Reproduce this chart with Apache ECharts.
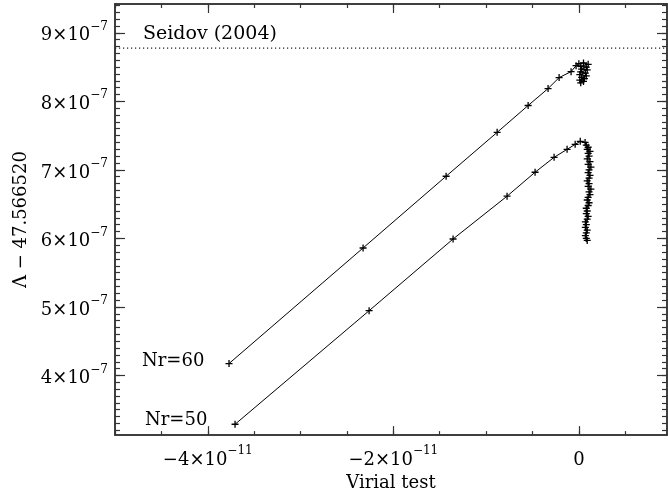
<!DOCTYPE html>
<html>
<head>
<meta charset="utf-8">
<script src="https://cdn.jsdelivr.net/npm/echarts@6/dist/echarts.min.js"></script>
<style>html,body{margin:0;padding:0;background:#fff}#c{width:668px;height:497px}</style>
</head>
<body>
<div id="c"></div>
<script>
// ---- data ----
const nr60X = [-3.771e-11, -2.326e-11, -1.431e-11, -0.881e-11, -0.547e-11, -0.332e-11, -0.213e-11, -0.084e-11, -0.030e-11,
  0.000e-11, 0.050e-11, 0.100e-11, 0.020e-11, 0.080e-11, 0.030e-11, 0.090e-11, 0.020e-11, 0.070e-11, 0.010e-11,
  0.080e-11, 0.030e-11, 0.060e-11, 0.010e-11, 0.050e-11, 0.020e-11];
const nr60Y = [4.174e-7, 5.860e-7, 6.907e-7, 7.547e-7, 7.939e-7, 8.186e-7, 8.346e-7, 8.433e-7, 8.520e-7,
  8.550e-7, 8.560e-7, 8.540e-7, 8.510e-7, 8.500e-7, 8.470e-7, 8.460e-7, 8.430e-7, 8.410e-7, 8.390e-7,
  8.370e-7, 8.350e-7, 8.330e-7, 8.310e-7, 8.290e-7, 8.270e-7];
const nr50X = [-3.706e-11, -2.261e-11, -1.356e-11, -0.774e-11, -0.472e-11, -0.267e-11, -0.127e-11, -0.040e-11, 0.015e-11, 0.067e-11,
  0.08e-11, 0.10e-11, 0.09e-11, 0.12e-11, 0.10e-11, 0.11e-11, 0.09e-11, 0.12e-11, 0.10e-11, 0.13e-11,
  0.11e-11, 0.10e-11, 0.12e-11, 0.11e-11, 0.09e-11, 0.11e-11, 0.10e-11, 0.13e-11, 0.11e-11, 0.12e-11,
  0.10e-11, 0.09e-11, 0.11e-11, 0.10e-11, 0.08e-11, 0.09e-11, 0.08e-11, 0.10e-11, 0.09e-11, 0.07e-11,
  0.08e-11, 0.07e-11, 0.09e-11, 0.08e-11, 0.07e-11, 0.08e-11, 0.09e-11];
const nr50Y = [3.288e-7, 4.945e-7, 5.991e-7, 6.616e-7, 6.965e-7, 7.183e-7, 7.299e-7, 7.372e-7, 7.416e-7, 7.401e-7,
  7.36e-7, 7.33e-7, 7.30e-7, 7.27e-7, 7.24e-7, 7.20e-7, 7.16e-7, 7.12e-7, 7.08e-7, 7.04e-7,
  7.00e-7, 6.96e-7, 6.92e-7, 6.88e-7, 6.84e-7, 6.80e-7, 6.76e-7, 6.72e-7, 6.68e-7, 6.64e-7,
  6.60e-7, 6.56e-7, 6.52e-7, 6.48e-7, 6.44e-7, 6.40e-7, 6.36e-7, 6.32e-7, 6.28e-7, 6.24e-7,
  6.20e-7, 6.16e-7, 6.12e-7, 6.08e-7, 6.04e-7, 6.00e-7, 5.97e-7];
const seidovValue = 8.777e-7;
const xMajor = [-4e-11, -2e-11, 0];
const xTickLabels = ['−4×10^−11', '−2×10^−11', '0'];
const yMajor = [4e-7, 5e-7, 6e-7, 7e-7, 8e-7, 9e-7];
const yTickLabels = ['4×10^−7', '5×10^−7', '6×10^−7', '7×10^−7', '8×10^−7', '9×10^−7'];
const xRange = [-5e-11, 0.95e-11];
const yRange = [3.13e-7, 9.42e-7];

// ---- build ----
const FONT = 'DejaVu Serif';
const xMinor = [], yMinor = [];
for (let k = -10; k <= 1; k++) xMinor.push(k * 0.5e-11);
for (let k = 32; k <= 94; k++) yMinor.push(k * 1e-8);

function fmt(v, vals, labels) {
  let i = vals.findIndex(t => Math.abs(t - v) < Math.abs(vals[1] - vals[0]) * 1e-3);
  if (i < 0) return '';
  const parts = labels[i].split('^');
  return '{m|' + parts[0] + '}' + (parts[1] ? '{e|' + parts[1] + '}' : '');
}
const rich = {
  m: { fontFamily: FONT, fontSize: 18, color: '#000', lineHeight: 24, verticalAlign: 'bottom' },
  e: { fontFamily: FONT, fontSize: 12, color: '#000', lineHeight: 12, verticalAlign: 'top' }
};
const axisLine = { show: true, onZero: false, lineStyle: { color: '#333', width: 1.5 } };
function xAx(pos, ticks, len, labels) {
  return {
    type: 'value', position: pos, min: xRange[0], max: xRange[1],
    axisLine: axisLine, splitLine: { show: false },
    axisTick: { show: true, inside: true, length: len, customValues: ticks, lineStyle: { color: '#333', width: 1.2 } },
    axisLabel: labels ? { show: true, customValues: xMajor, margin: 10, formatter: v => fmt(v, xMajor, xTickLabels), rich: rich } : { show: false }
  };
}
function yAx(pos, ticks, len, labels) {
  return {
    type: 'value', position: pos, min: yRange[0], max: yRange[1],
    axisLine: axisLine, splitLine: { show: false },
    axisTick: { show: true, inside: true, length: len, customValues: ticks, lineStyle: { color: '#333', width: 1.2 } },
    axisLabel: labels ? { show: true, customValues: yMajor, margin: 7, formatter: v => fmt(v, yMajor, yTickLabels), rich: rich } : { show: false }
  };
}
const xAxes = [xAx('bottom', xMajor, 9, true), xAx('bottom', xMinor, 4, false), xAx('top', xMajor, 9, false), xAx('top', xMinor, 4, false)];
xAxes[0].name = 'Virial test';
xAxes[0].nameLocation = 'middle';
xAxes[0].nameGap = 34;
xAxes[0].nameTextStyle = { fontFamily: FONT, fontSize: 18, color: '#000' };
const yAxes = [yAx('left', yMajor, 10, true), yAx('left', yMinor, 5, false), yAx('right', yMajor, 10, false), yAx('right', yMinor, 5, false)];
yAxes[0].name = 'Λ − 47.566520';
yAxes[0].nameLocation = 'middle';
yAxes[0].nameGap = 84;
yAxes[0].nameTextStyle = { fontFamily: FONT, fontSize: 18, color: '#000' };

const plus = 'path://M0,5L10,5M5,0L5,10';
function mk(xs, ys) { return xs.map((x, i) => [x, ys[i]]); }
const series = [
  { type: 'line', name: 'Seidov', data: [[xRange[0], seidovValue], [xRange[1], seidovValue]], xAxisIndex: 0, yAxisIndex: 0,
    symbol: 'none', silent: true, lineStyle: { color: '#222', width: 1.2, type: [1.2, 2.8] } },
  { type: 'line', name: 'Nr=60', data: mk(nr60X, nr60Y), xAxisIndex: 0, yAxisIndex: 0,
    symbol: plus, symbolSize: 7, showAllSymbol: true,
    lineStyle: { color: '#000', width: 1 }, itemStyle: { color: 'rgba(0,0,0,0)', borderColor: '#000', borderWidth: 1.3 } },
  { type: 'line', name: 'Nr=50', data: mk(nr50X, nr50Y), xAxisIndex: 0, yAxisIndex: 0,
    symbol: plus, symbolSize: 7, showAllSymbol: true,
    lineStyle: { color: '#000', width: 1 }, itemStyle: { color: 'rgba(0,0,0,0)', borderColor: '#000', borderWidth: 1.3 } }
];
const txt = (t, x, y, fs) => ({ type: 'text', left: x, top: y, style: { text: t, fontFamily: FONT, fontSize: fs || 18, fill: '#000' } });

const chart = echarts.init(document.getElementById('c'), null, { renderer: 'canvas' });
chart.setOption({
  animation: false,
  backgroundColor: '#fff',
  grid: { left: 115, right: 1, top: 4, bottom: 60, containLabel: false },
  xAxis: xAxes,
  yAxis: yAxes,
  series: series,
  graphic: [txt('Seidov (2004)', 143, 25, 19), txt('Nr=60', 142, 352), txt('Nr=50', 145, 411)]
});
</script>
</body>
</html>
